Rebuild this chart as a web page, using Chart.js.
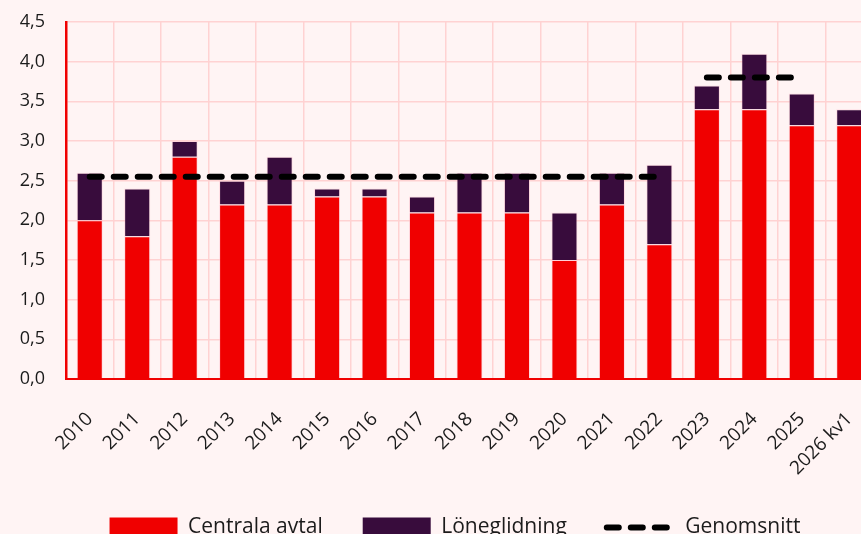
<!DOCTYPE html>
<html>
<head>
<meta charset="utf-8">
<script src="https://cdn.jsdelivr.net/npm/chart.js@4.4.1/dist/chart.umd.min.js"></script>
<style>
  html, body { margin: 0; padding: 0; background: #fff4f4; overflow: hidden; }
  #wrap { width: 910px; height: 548px; }
</style>
</head>
<body>
<div id="wrap"><canvas id="lonChart"></canvas></div>
<script>
const years = ["2010", "2011", "2012", "2013", "2014", "2015", "2016", "2017", "2018",
  "2019", "2020", "2021", "2022", "2023", "2024", "2025", "2026 kv1"];
const centralaAvtal = [2.0, 1.8, 2.8, 2.2, 2.2, 2.3, 2.3, 2.1, 2.1, 2.1, 1.5, 2.2, 1.7, 3.4, 3.4, 3.2, 3.2];
const loneglidning = [0.6, 0.6, 0.2, 0.3, 0.6, 0.1, 0.1, 0.2, 0.5, 0.5, 0.6, 0.4, 1.0, 0.3, 0.7, 0.4, 0.2];
const snitt2010_2022 = [2.55, 2.55, 2.55, 2.55, 2.55, 2.55, 2.55, 2.55, 2.55, 2.55, 2.55, 2.55, 2.55, null, null, null, null];
const snitt2023_2025 = [null, null, null, null, null, null, null, null, null, null, null, null, null, 3.8, 3.8, 3.8, null];
const yTicks = [0, 0.5, 1, 1.5, 2, 2.5, 3, 3.5, 4, 4.5];

const red = "#f00000";
const purple = "#380c3c";
const gridPink = "#ffd2d2";
const textColor = "#1b1b1b";
const fontFamily = "'Open Sans', sans-serif";
const dash = [12, 12];

const snittLine = {
  type: "line",
  borderColor: "#000000",
  borderWidth: 6,
  borderDash: dash,
  borderCapStyle: "round",
  pointRadius: 0,
  pointStyle: "line",
  fill: false,
  spanGaps: false,
  order: 0,
};

new Chart(document.getElementById("lonChart"), {
  type: "bar",
  data: {
    labels: years,
    datasets: [
      {
        label: "Centrala avtal",
        data: centralaAvtal,
        backgroundColor: red,
        borderColor: "rgba(255, 190, 205, 0.45)",
        borderWidth: 1,
        pointStyle: "rect",
        stack: "lon",
        order: 1,
      },
      {
        label: "Löneglidning",
        data: loneglidning,
        backgroundColor: purple,
        borderColor: "rgba(255, 190, 205, 0.45)",
        borderWidth: 1,
        pointStyle: "rect",
        stack: "lon",
        order: 1,
      },
      { ...snittLine, label: "Genomsnitt", data: snitt2010_2022, stack: "s1" },
      { ...snittLine, label: "Genomsnitt", data: snitt2023_2025, stack: "s2" },
    ],
  },
  options: {
    responsive: true,
    maintainAspectRatio: false,
    animation: false,
    layout: { padding: { top: 22, left: 13, right: 13, bottom: 0 } },
    datasets: {
      bar: { categoryPercentage: 1, barPercentage: 0.55 },
    },
    plugins: {
      tooltip: { enabled: false },
      legend: {
        position: "bottom",
        labels: {
          usePointStyle: true,
          pointStyleWidth: 68,
          boxHeight: 20,
          padding: 40,
          color: textColor,
          font: { family: fontFamily, size: 21 },
          filter: (item) => item.datasetIndex !== 3,
          sort: (a, b) => a.datasetIndex - b.datasetIndex,
          generateLabels: (chart) => {
            const items = Chart.defaults.plugins.legend.labels.generateLabels(chart);
            items.forEach((item) => {
              if (item.datasetIndex >= 2) {
                item.lineDash = dash;
                item.lineCap = "round";
                item.lineWidth = 6;
                item.strokeStyle = "#000000";
              } else {
                item.lineWidth = 0;
              }
            });
            return items;
          },
        },
      },
    },
    scales: {
      x: {
        stacked: true,
        grid: { color: gridPink, lineWidth: 1.5, drawTicks: false },
        border: { color: red, width: 2 },
        ticks: {
          color: textColor,
          font: { family: fontFamily, size: 19 },
          minRotation: 45,
          maxRotation: 45,
          autoSkip: false,
          padding: 29,
        },
        afterFit: (scale) => {
          scale.paddingLeft = 0;
          scale.paddingRight = 0;
          scale.height = 98;
        },
      },
      y: {
        stacked: true,
        min: 0,
        max: 4.5,
        afterBuildTicks: (scale) => {
          scale.ticks = yTicks.map((v) => ({ value: v }));
        },
        grid: { color: gridPink, lineWidth: 1.5, drawTicks: false },
        border: { color: red, width: 2.5 },
        ticks: {
          color: textColor,
          font: { family: fontFamily, size: 18 },
          padding: 21,
          callback: (v) => Number(v).toFixed(1).replace(".", ","),
        },
        afterFit: (scale) => {
          scale.width = 53;
          scale.paddingTop = 0;
          scale.paddingBottom = 0;
        },
      },
      yPad: {
        position: "right",
        display: true,
        grid: { display: false },
        border: { display: false },
        ticks: { display: false },
        afterFit: (scale) => {
          scale.width = 24;
        },
      },
    },
  },
});
</script>
</body>
</html>
